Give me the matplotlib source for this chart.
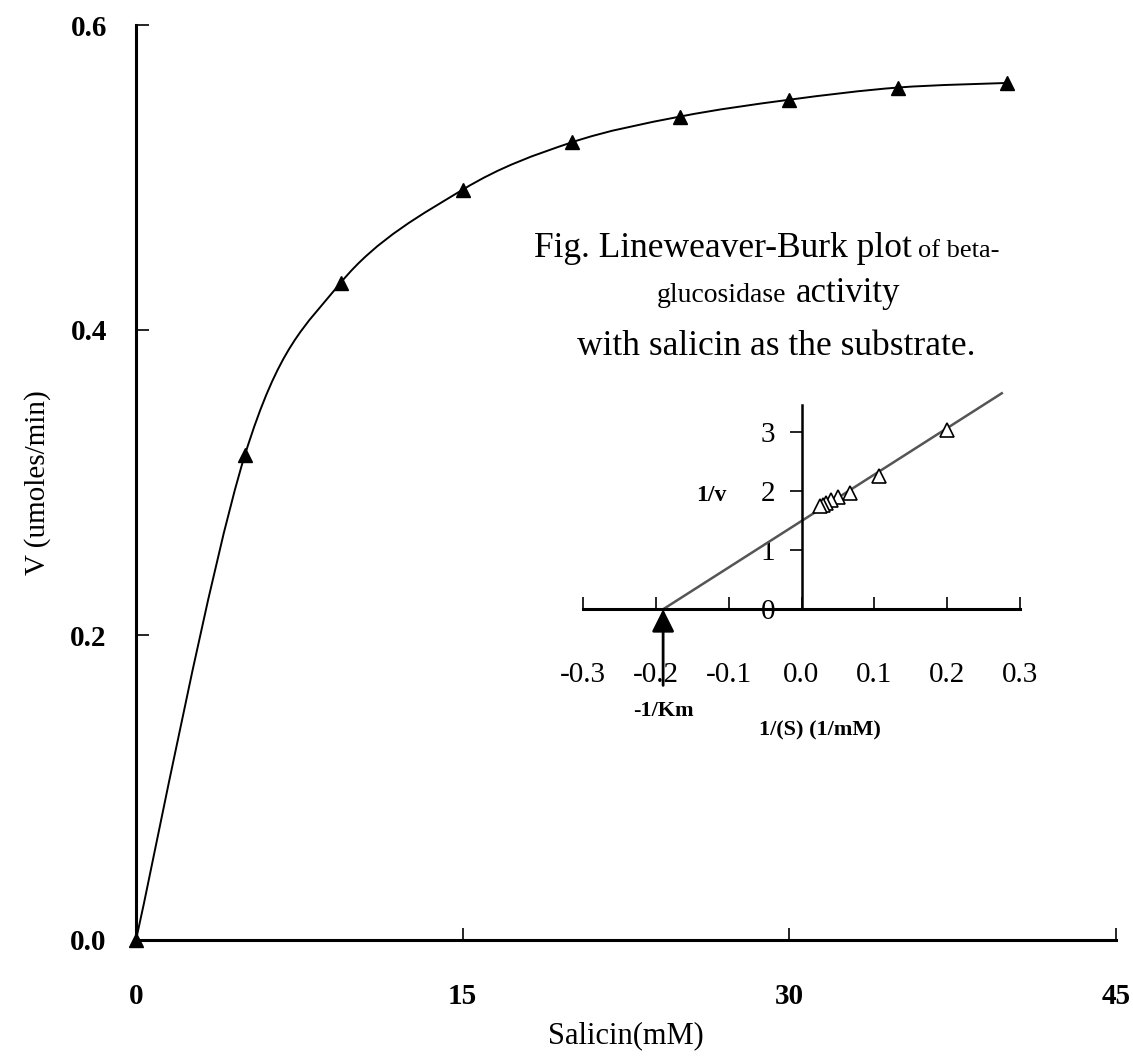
import numpy as np
import matplotlib
matplotlib.use("Agg")
from matplotlib import pyplot as plt
from matplotlib.path import Path
from matplotlib.patches import PathPatch

# main curve: Michaelis-Menten data
salicin = [0, 5, 9.4, 15, 20, 25, 30, 35, 40]
velocity = [0.0, 0.318, 0.431, 0.492, 0.523, 0.540, 0.551, 0.559, 0.562]

# inset: Lineweaver-Burk
inv_s = [0.2, 0.106, 0.067, 0.05, 0.04, 0.033, 0.029, 0.025]
inv_v = [3.03, 2.26, 1.97, 1.90, 1.85, 1.80, 1.77, 1.75]
fit_x = [-0.19, 0.275]
fit_y = [0.0, 3.66]
km_x = -0.19

main_xticks = [0, 15, 30, 45]
main_yticks = [0.0, 0.2, 0.4, 0.6]
inset_xticks = [-0.3, -0.2, -0.1, 0.0, 0.1, 0.2, 0.3]
inset_yticks = [0, 1, 2, 3]

plt.rcParams['font.family'] = ['Liberation Serif', 'DejaVu Serif']

W, H = 1133, 1061
fig = plt.figure(figsize=(W / 100, H / 100), dpi=100)


def fx(px):
    return px / W


def fy(py):
    return 1 - py / H


def smooth_path(xs, ys):
    pts = np.column_stack([xs, ys]).astype(float)
    n = len(pts)
    verts = [pts[0]]
    codes = [Path.MOVETO]
    for i in range(n - 1):
        p0 = pts[max(i - 1, 0)]
        p1 = pts[i]
        p2 = pts[i + 1]
        p3 = pts[min(i + 2, n - 1)]
        verts += [p1 + (p2 - p0) / 6, p2 - (p3 - p1) / 6, p2]
        codes += [Path.CURVE4] * 3
    return Path(verts, codes)


# ---- main axes ----
ax = fig.add_axes([fx(136), fy(940), (1116 - 136) / W, (940 - 25) / H])
ax.set_xlim(0, 45)
ax.set_ylim(0, 0.6)
ax.add_patch(PathPatch(smooth_path(salicin, velocity), fc='none', ec='black', lw=1.4))
ax.plot(salicin, velocity, ls='none', marker='^', ms=10, color='black', clip_on=False, zorder=3)

for s in ['top', 'right']:
    ax.spines[s].set_visible(False)
for s in ['left', 'bottom']:
    ax.spines[s].set_linewidth(2.2)
ax.set_xticks(main_xticks)
ax.set_xticklabels([str(t) for t in main_xticks])
ax.set_yticks(main_yticks)
ax.set_yticklabels(['%.1f' % t for t in main_yticks])
ax.tick_params(direction='in', length=9, width=1.2, labelsize=21)
ax.tick_params(axis='x', pad=31)
ax.tick_params(axis='y', pad=21)
for lab in ax.get_xticklabels() + ax.get_yticklabels():
    lab.set_fontweight('bold')
ax.set_xlabel('Salicin(mM)', fontsize=22, labelpad=8)
ax.set_ylabel('V (umoles/min)', fontsize=21, labelpad=14)

# ---- inset ----
ins = fig.add_axes([fx(583), fy(745), (1020 - 583) / W, (745 - 385) / H])
ins.set_xlim(-0.3, 0.3)
ins.set_ylim(-2.3, 3.8)
ins.patch.set_alpha(0)
ins.plot(fit_x, fit_y, color='#555555', lw=1.8, clip_on=False)
ins.plot(inv_s, inv_v, ls='none', marker='^', ms=10, mfc='white', mec='black', mew=1.2)

ins.spines['top'].set_visible(False)
ins.spines['right'].set_visible(False)
ins.spines['left'].set_position(('data', 0))
ins.spines['bottom'].set_position(('data', 0))
ins.spines['left'].set_bounds(0, 3.46)
ins.spines['bottom'].set_bounds(-0.3, 0.3)
ins.spines['left'].set_linewidth(1.8)
ins.spines['bottom'].set_linewidth(2.2)
ins.set_xticks(inset_xticks)
ins.set_xticklabels(['%.1f' % t for t in inset_xticks])
ins.set_yticks(inset_yticks)
ins.set_yticklabels([str(t) for t in inset_yticks])
ins.tick_params(axis='x', direction='in', length=9, width=1.2, labelsize=21, pad=38)
ins.tick_params(axis='y', direction='out', length=9, width=1.2, labelsize=21, pad=10)

ins.annotate('', xy=(km_x, 0), xytext=(km_x, -1.29),
             arrowprops=dict(arrowstyle='-|>', color='black', lw=2, mutation_scale=34,
                             shrinkA=0, shrinkB=0))
ins.text(km_x, -1.72, '-1/Km', ha='center', va='center', fontsize=16, fontweight='bold')
ins.text(0.025, -2.05, '1/(S) (1/mM)', ha='center', va='center', fontsize=16, fontweight='bold')
ins.text(-0.124, 1.93, '1/v', ha='center', va='center', fontsize=17, fontweight='bold')

# inset caption
fig.text(fx(912), fy(257), 'Fig. Lineweaver-Burk plot', ha='right', va='baseline', fontsize=25.5)
fig.text(fx(918), fy(257), 'of beta-', ha='left', va='baseline', fontsize=19)
fig.text(fx(786), fy(302), 'glucosidase', ha='right', va='baseline', fontsize=20)
fig.text(fx(796), fy(302), 'activity', ha='left', va='baseline', fontsize=25)
fig.text(fx(776), fy(355), 'with salicin as the substrate.', ha='center', va='baseline', fontsize=25.5)

fig.savefig('out.png', dpi=100)
